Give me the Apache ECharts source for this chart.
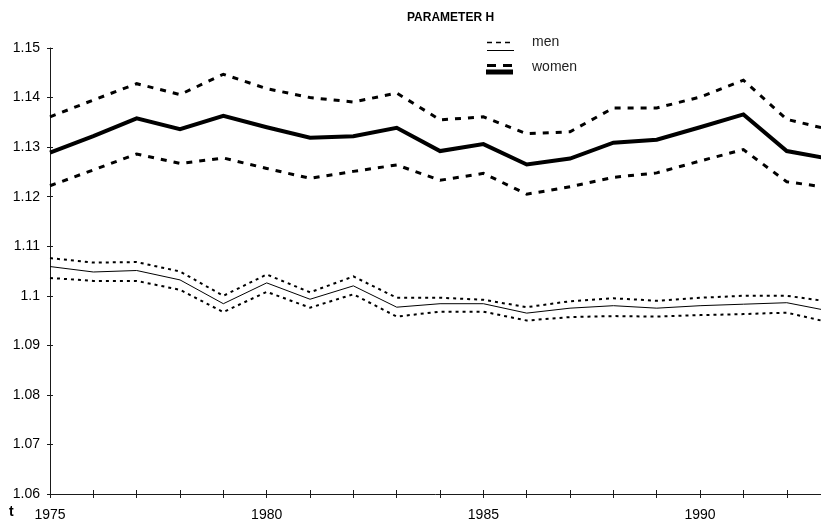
<!DOCTYPE html>
<html>
<head>
<meta charset="utf-8">
<style>
  html, body { margin: 0; padding: 0; background: #fff; }
  #chart { width: 821px; height: 524px; }
</style>
<script src="https://cdn.jsdelivr.net/npm/echarts@6/dist/echarts.min.js"></script>
</head>
<body>
<div id="chart"></div>
<script>
// Years of the series (the last one runs past the right edge of the plot)
const years = [1975, 1976, 1977, 1978, 1979, 1980, 1981, 1982, 1983, 1984,
               1985, 1986, 1987, 1988, 1989, 1990, 1991, 1992, 1993];

// Women: estimate with upper and lower bands
const womenUpper = [1.1361, 1.1395, 1.1428, 1.1406, 1.1447, 1.1418, 1.1400, 1.1391, 1.1409, 1.1355,
                    1.1361, 1.1327, 1.1331, 1.1379, 1.1379, 1.1401, 1.1435, 1.1356, 1.1335];
const womenMid   = [1.1289, 1.1322, 1.1358, 1.1336, 1.1363, 1.1340, 1.1319, 1.1322, 1.1339, 1.1292,
                    1.1306, 1.1265, 1.1277, 1.1309, 1.1315, 1.1340, 1.1366, 1.1292, 1.1276];
const womenLower = [1.1222, 1.1254, 1.1286, 1.1267, 1.1278, 1.1257, 1.1237, 1.1251, 1.1264, 1.1233,
                    1.1247, 1.1205, 1.1220, 1.1239, 1.1248, 1.1272, 1.1295, 1.1230, 1.1218];

// Men: estimate with upper and lower bands
const menUpper = [1.1076, 1.1067, 1.1068, 1.1049, 1.1000, 1.1043, 1.1007, 1.1039, 1.0996, 1.0996,
                  1.0992, 1.0977, 1.0989, 1.0995, 1.0990, 1.0996, 1.1000, 1.1000, 1.0988];
const menMid   = [1.1059, 1.1048, 1.1051, 1.1032, 1.0984, 1.1026, 1.0993, 1.1020, 1.0977, 1.0984,
                  1.0984, 1.0965, 1.0975, 1.0980, 1.0975, 1.0980, 1.0983, 1.0986, 1.0969];
const menLower = [1.1036, 1.1030, 1.1030, 1.1012, 1.0967, 1.1008, 1.0976, 1.1003, 1.0958, 1.0968,
                  1.0968, 1.0950, 1.0957, 1.0959, 1.0958, 1.0961, 1.0963, 1.0966, 1.0946];

// Axis settings
const yMin = 1.06, yMax = 1.15, yStep = 0.01;
const xMin = 1975, xMax = 1992.79, xStep = 1, xLabelEvery = 5;

const pairs = vals => years.map((y, i) => [y, vals[i]]);
const AXIS_COLOR = '#1a1a1a';
const FONT = 'Liberation Sans, Arial, sans-serif';

const chart = echarts.init(document.getElementById('chart'), null, { renderer: 'canvas' });

function line(name, vals, width, type) {
  return {
    name: name,
    type: 'line',
    data: pairs(vals),
    xAxisIndex: 0,
    yAxisIndex: 0,
    symbol: 'none',
    silent: true,
    animation: false,
    clip: true,
    lineStyle: { color: '#000', width: width, type: type, cap: 'butt', join: 'miter' }
  };
}

const baseX = {
  type: 'value', min: xMin, max: xMax, interval: xStep,
  splitLine: { show: false }
};
const baseY = {
  type: 'value', min: yMin, max: yMax, interval: yStep,
  splitLine: { show: false }
};

chart.setOption({
  animation: false,
  backgroundColor: '#fff',
  title: {
    text: 'PARAMETER H',
    left: 407, top: 12, padding: 0,
    textStyle: { fontFamily: FONT, fontSize: 12, fontWeight: 'bold', color: '#000' }
  },
  grid: { left: 50, right: 0, top: 48, bottom: 30, containLabel: false },
  xAxis: [
    Object.assign({}, baseX, {
      position: 'bottom',
      axisLine: { show: true, lineStyle: { color: AXIS_COLOR, width: 1 } },
      axisTick: { show: true, inside: false, length: 4, lineStyle: { color: AXIS_COLOR } },
      axisLabel: {
        margin: 14, fontFamily: FONT, fontSize: 14, color: '#000',
        showMaxLabel: false,
        formatter: v => (Math.abs(v % xLabelEvery) < 1e-6 ? String(v) : '')
      }
    }),
    Object.assign({}, baseX, {
      position: 'bottom',
      axisLine: { show: false },
      axisTick: { show: true, inside: true, length: 4, lineStyle: { color: AXIS_COLOR } },
      axisLabel: { show: false }
    })
  ],
  yAxis: [
    Object.assign({}, baseY, {
      position: 'left',
      axisLine: { show: true, lineStyle: { color: AXIS_COLOR, width: 1 } },
      axisTick: { show: true, inside: false, length: 3, lineStyle: { color: AXIS_COLOR } },
      axisLabel: { margin: 10, fontFamily: FONT, fontSize: 14, color: '#000' }
    }),
    Object.assign({}, baseY, {
      position: 'left',
      axisLine: { show: false },
      axisTick: { show: true, inside: true, length: 3, lineStyle: { color: AXIS_COLOR } },
      axisLabel: { show: false }
    })
  ],
  graphic: [
    // time-axis name
    { type: 'text', left: 9, top: 505,
      style: { text: 't', font: 'bold 14px ' + FONT, fill: '#000' } },
    // legend: men
    { type: 'line', shape: { x1: 487, y1: 42.5, x2: 514, y2: 42.5 },
      style: { stroke: '#000', lineWidth: 1.5, lineDash: [5, 4] } },
    { type: 'line', shape: { x1: 487, y1: 50.5, x2: 514, y2: 50.5 },
      style: { stroke: '#000', lineWidth: 1 } },
    { type: 'text', left: 532, top: 35,
      style: { text: 'men', font: '14px ' + FONT, fill: '#222' } },
    // legend: women
    { type: 'line', shape: { x1: 487, y1: 65.5, x2: 514, y2: 65.5 },
      style: { stroke: '#000', lineWidth: 3, lineDash: [9, 7] } },
    { type: 'line', shape: { x1: 486, y1: 72, x2: 513, y2: 72 },
      style: { stroke: '#000', lineWidth: 5 } },
    { type: 'text', left: 532, top: 60,
      style: { text: 'women', font: '14px ' + FONT, fill: '#222' } }
  ],
  series: [
    line('women upper', womenUpper, 3, [6, 7]),
    line('women', womenMid, 4, 'solid'),
    line('women lower', womenLower, 3, [6, 7]),
    line('men upper', menUpper, 2, [3, 4]),
    line('men', menMid, 1, 'solid'),
    line('men lower', menLower, 2, [3, 4])
  ]
});
</script>
</body>
</html>
